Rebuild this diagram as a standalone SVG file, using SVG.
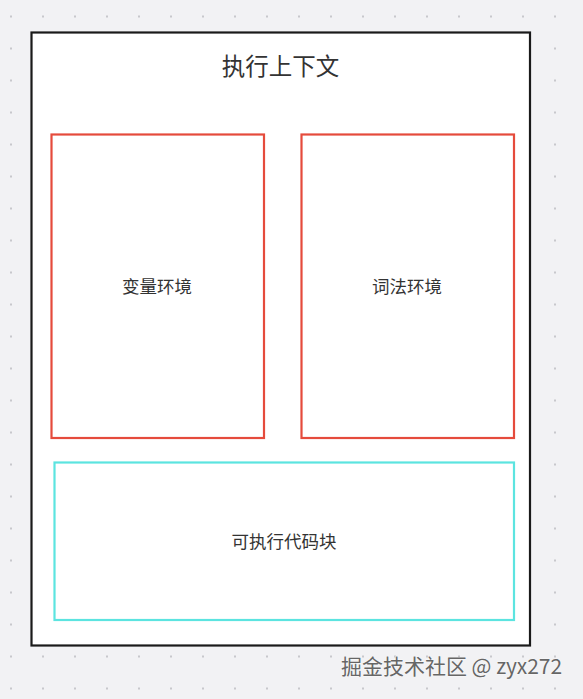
<svg xmlns="http://www.w3.org/2000/svg" width="583" height="699" viewBox="0 0 583 699">
<defs>
<pattern id="dots" x="0" y="0" width="32" height="32" patternUnits="userSpaceOnUse">
<rect x="10" y="15.5" width="2" height="2" fill="#c8c8cc"/>
</pattern>
</defs>
<style>
.lbl{font-family:"Noto Sans CJK SC","Noto Sans",sans-serif;fill:#333;text-anchor:middle;dominant-baseline:central}
.red{fill:#fff;stroke:#e54b3c;stroke-width:2.2}
.cyan{fill:#fff;stroke:#5ce4e0;stroke-width:2.2}
</style>
<rect width="583" height="699" fill="#f2f2f4"/>
<rect width="583" height="699" fill="url(#dots)"/>
<g id="context">
<rect x="31.5" y="32.5" width="498.5" height="613" fill="#fff" stroke="#1a1a1a" stroke-width="2.2"/>
<text class="lbl" x="280.5" y="64.5" font-size="23.5">执行上下文</text>
</g>
<g id="variable-env">
<rect class="red" x="51.5" y="134.5" width="212.5" height="303.5"/>
<text class="lbl" x="157" y="285" font-size="17.5">变量环境</text>
</g>
<g id="lexical-env">
<rect class="red" x="301.5" y="134.5" width="212.5" height="303.5"/>
<text class="lbl" x="407" y="285" font-size="17.5">词法环境</text>
</g>
<g id="code-block">
<rect class="cyan" x="54.5" y="462.5" width="459.5" height="157.5"/>
<text class="lbl" x="284" y="540" font-size="17.5">可执行代码块</text>
</g>
<g id="connectors"></g>
<text x="451.5" y="665" font-family="Noto Sans CJK SC,Noto Sans,sans-serif" font-size="21" fill="#666" stroke="#fff" stroke-width="0.6" paint-order="stroke" text-anchor="middle" dominant-baseline="central">掘金技术社区 @ zyx272</text>
</svg>
